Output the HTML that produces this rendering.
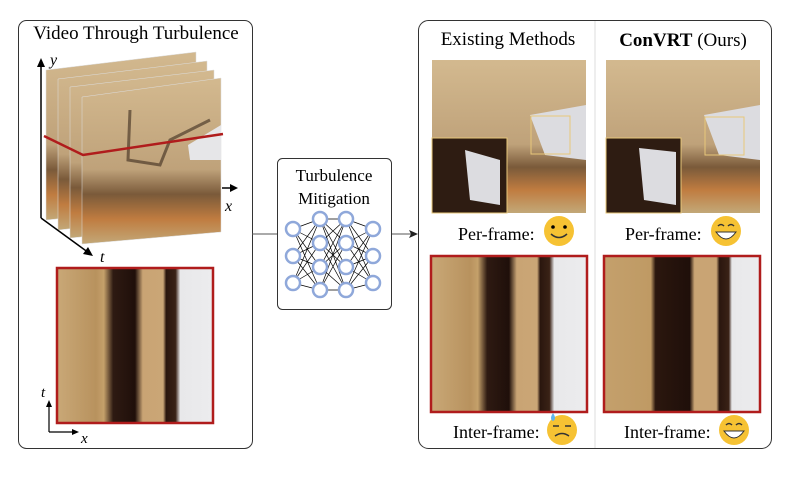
<!DOCTYPE html>
<html><head><meta charset="utf-8"><style>
body{margin:0;background:#fff;}
svg text{font-family:"Liberation Serif",serif;}
</style></head><body>
<svg width="795" height="484" viewBox="0 0 795 484" xmlns="http://www.w3.org/2000/svg">
<defs>
<linearGradient id="sl" x1="0" x2="1" y1="0" y2="0">
<stop offset="0" stop-color="#c9a877"/><stop offset="0.25" stop-color="#b8925e"/><stop offset="0.3" stop-color="#c4a06a"/>
<stop offset="0.36" stop-color="#2e1a12"/><stop offset="0.5" stop-color="#1f0f0a"/><stop offset="0.55" stop-color="#c9a474"/>
<stop offset="0.68" stop-color="#caa676"/><stop offset="0.7" stop-color="#2a160e"/><stop offset="0.76" stop-color="#3a2216"/>
<stop offset="0.79" stop-color="#e8e8ea"/><stop offset="1" stop-color="#ececee"/>
</linearGradient>
<linearGradient id="sl2" x1="0" x2="1" y1="0" y2="0">
<stop offset="0" stop-color="#c4a06c"/><stop offset="0.3" stop-color="#bf9a64"/><stop offset="0.33" stop-color="#2b170e"/>
<stop offset="0.55" stop-color="#1f0f0a"/><stop offset="0.58" stop-color="#c9a474"/><stop offset="0.72" stop-color="#c9a474"/>
<stop offset="0.74" stop-color="#2a160e"/><stop offset="0.8" stop-color="#3a2216"/><stop offset="0.82" stop-color="#e8e8ea"/><stop offset="1" stop-color="#ececee"/>
</linearGradient>
<linearGradient id="el" x1="0" x2="0" y1="0" y2="1">
<stop offset="0" stop-color="#d3b98f"/><stop offset="0.55" stop-color="#bfa27a"/><stop offset="0.7" stop-color="#7a5a3a"/><stop offset="0.85" stop-color="#c07c40"/><stop offset="1" stop-color="#c2a878"/>
</linearGradient>
</defs>
<rect x="18.5" y="20.5" width="234" height="428" rx="8" fill="#fff" stroke="#333"/>
<text x="136" y="39" font-size="19" text-anchor="middle">Video Through Turbulence</text>
<g stroke="#ddd" stroke-width="0.5">
<polygon points="46,70 196,52 196,205 46,220" fill="url(#el)"/>
<polygon points="58,79 207,61 207,214 58,230" fill="url(#el)"/>
<polygon points="70,87 214,70 214,224 70,238" fill="url(#el)"/>
<polygon points="82,97 221,78 221,232 82,244" fill="url(#el)"/>
</g>
<path d="M130,110 L128,160 L160,165 L170,140 L210,120" fill="none" stroke="#3b2a1c" stroke-width="3" opacity="0.6"/>
<polygon points="188,145 221,125 221,160 190,160" fill="#e6e6e8"/>
<polyline points="44,136 83,155 223,134" fill="none" stroke="#b01c1c" stroke-width="2.5"/>
<g stroke="#000" stroke-width="1.5" fill="none">
<line x1="41" y1="218" x2="41" y2="64"/><line x1="41" y1="218" x2="89" y2="253"/><line x1="222" y1="188" x2="233" y2="188"/>
</g>
<polygon points="41,58 37,67 45,67"/><polygon points="93,256 83,254 88,247"/><polygon points="238,188 230,184 230,192"/>
<text x="50" y="65" font-size="16" font-style="italic">y</text>
<text x="225" y="211" font-size="16" font-style="italic">x</text>
<text x="100" y="262" font-size="16" font-style="italic">t</text>
<rect x="57" y="268" width="156" height="155" fill="url(#sl)" stroke="#b01c1c" stroke-width="2.5"/>
<g stroke="#000" stroke-width="1.2" fill="none"><line x1="49" y1="432" x2="49" y2="405"/><line x1="49" y1="432" x2="74" y2="432"/></g>
<polygon points="49,400 46,407 52,407"/><polygon points="79,432 72,429 72,435"/>
<text x="41" y="397" font-size="15" font-style="italic">t</text>
<text x="81" y="443" font-size="15" font-style="italic">x</text>
<line x1="252" y1="234" x2="277" y2="234" stroke="#555"/>
<line x1="391" y1="234" x2="412" y2="234" stroke="#555"/>
<polygon points="418,234 409,230 411,234 409,238" fill="#222"/>
<rect x="277.5" y="158.5" width="114" height="151" rx="5" fill="#fff" stroke="#333"/>
<text x="334" y="181" font-size="17" text-anchor="middle">Turbulence</text>
<text x="334" y="204" font-size="17" text-anchor="middle">Mitigation</text>
<g stroke="#000" stroke-width="0.7">
<path d="M293,229 L320,219 M293,229 L320,243 M293,229 L320,267 M293,229 L320,290 M293,256 L320,219 M293,256 L320,243 M293,256 L320,267 M293,256 L320,290 M293,283 L320,219 M293,283 L320,243 M293,283 L320,267 M293,283 L320,290"/>
<path d="M320,219 L346,219 M320,219 L346,243 M320,219 L346,267 M320,219 L346,290 M320,243 L346,219 M320,243 L346,267 M320,243 L346,290 M320,267 L346,219 M320,267 L346,243 M320,267 L346,290 M320,290 L346,290 M320,290 L346,219 M320,290 L346,243"/>
<path d="M346,219 L373,229 M346,219 L373,256 M346,219 L373,283 M346,243 L373,229 M346,243 L373,256 M346,243 L373,283 M346,267 L373,229 M346,267 L373,256 M346,267 L373,283 M346,290 L373,229 M346,290 L373,256 M346,290 L373,283"/>
</g>
<g fill="#fff" stroke="#8fa8da" stroke-width="2.5">
<circle cx="293" cy="229" r="7"/><circle cx="293" cy="256" r="7"/><circle cx="293" cy="283" r="7"/>
<circle cx="320" cy="219" r="7"/><circle cx="320" cy="243" r="7"/><circle cx="320" cy="267" r="7"/><circle cx="320" cy="290" r="7"/>
<circle cx="346" cy="219" r="7"/><circle cx="346" cy="243" r="7"/><circle cx="346" cy="267" r="7"/><circle cx="346" cy="290" r="7"/>
<circle cx="373" cy="229" r="7"/><circle cx="373" cy="256" r="7"/><circle cx="373" cy="283" r="7"/>
</g>
<rect x="418.5" y="20.5" width="353" height="428" rx="10" fill="#fff" stroke="#333"/>
<line x1="595" y1="21" x2="595" y2="448" stroke="#ddd"/>
<text x="508" y="45" font-size="19" text-anchor="middle">Existing Methods</text>
<text x="683" y="46" font-size="19" text-anchor="middle"><tspan font-weight="bold">ConVRT</tspan> (Ours)</text>
<g>
<rect x="432" y="60" width="154" height="153" fill="url(#el)"/>
<polygon points="530,115 586,105 586,160 545,155" fill="#dcdce0"/>
<rect x="432" y="138" width="75" height="75" fill="#2e1c12" stroke="#e8c77a"/>
<polygon points="465,150 500,160 500,205 470,200" fill="#dcdce0"/>
<rect x="531" y="116" width="39" height="38" fill="none" stroke="#e8c77a"/>
<rect x="606" y="60" width="154" height="153" fill="url(#el)"/>
<polygon points="704,115 760,105 760,160 719,155" fill="#dcdce0"/>
<rect x="606" y="138" width="75" height="75" fill="#2e1c12" stroke="#e8c77a"/>
<polygon points="639,148 676,152 676,205 644,200" fill="#dcdce0"/>
<rect x="705" y="117" width="39" height="38" fill="none" stroke="#e8c77a"/>
</g>
<text x="458" y="240" font-size="18">Per-frame:</text>
<text x="625" y="240" font-size="18">Per-frame:</text>
<circle cx="559" cy="231" r="15" fill="#f6c233"/><circle cx="553" cy="227" r="1.8"/><circle cx="565" cy="227" r="1.8"/><path d="M551,234 Q559,241 567,234" fill="none" stroke="#333" stroke-width="1.5"/>
<circle cx="726" cy="231" r="15" fill="#f6c233"/><path d="M718,226 q3,-3 6,0 M728,226 q3,-3 6,0" fill="none" stroke="#333" stroke-width="1.5"/><path d="M716,232 Q726,246 736,232 Z" fill="#fff" stroke="#333"/>
<rect x="431" y="256" width="156" height="156" fill="url(#sl)" stroke="#b01c1c" stroke-width="2.5"/>
<rect x="604" y="256" width="156" height="156" fill="url(#sl2)" stroke="#b01c1c" stroke-width="2.5"/>
<text x="453" y="438" font-size="18">Inter-frame:</text>
<text x="624" y="438" font-size="18">Inter-frame:</text>
<circle cx="562" cy="430" r="15" fill="#f6c233"/><path d="M553,426 h6 M565,426 h6 M555,436 Q562,431 569,436" fill="none" stroke="#333" stroke-width="1.5"/><path d="M553,413 q-4,6 0,8 q4,-2 0,-8" fill="#5fb3ec"/>
<circle cx="734" cy="430" r="15" fill="#f6c233"/><path d="M726,425 q3,-3 6,0 M736,425 q3,-3 6,0" fill="none" stroke="#333" stroke-width="1.5"/><path d="M724,431 Q734,445 744,431 Z" fill="#fff" stroke="#333"/>
</svg>
</body></html>
